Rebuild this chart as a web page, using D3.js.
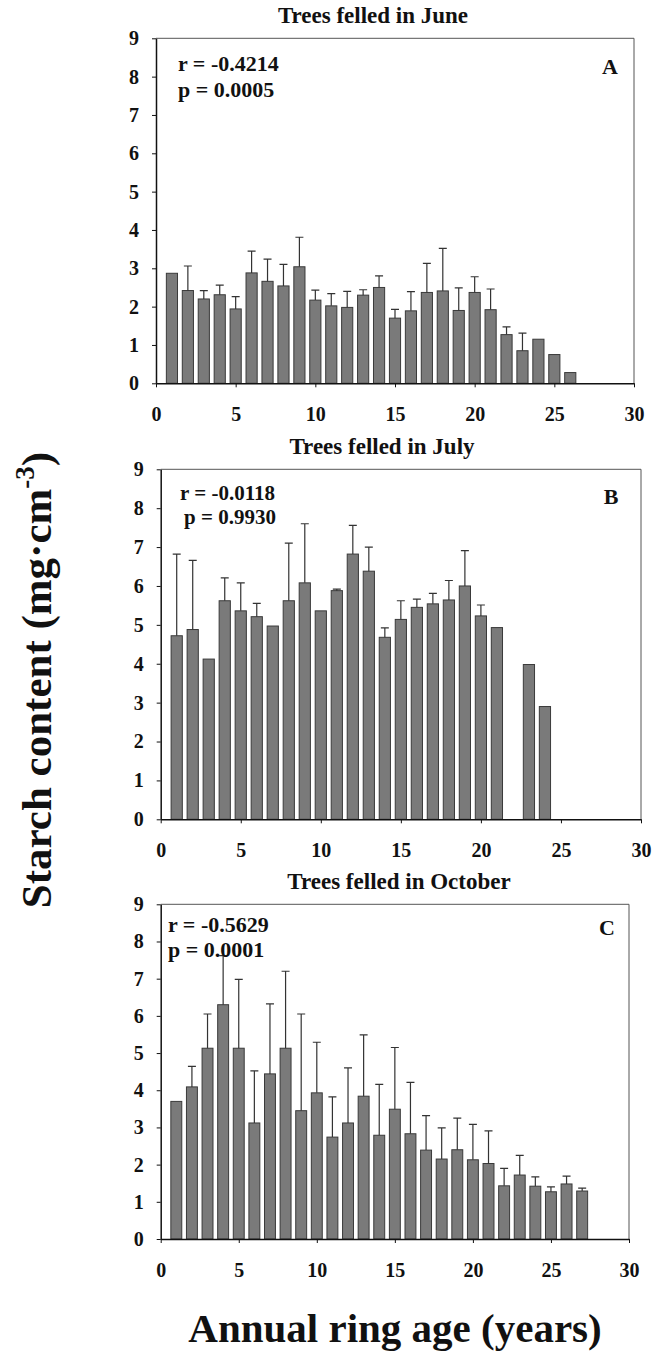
<!DOCTYPE html>
<html>
<head>
<meta charset="utf-8">
<script src="https://cdn.jsdelivr.net/npm/d3@7"></script>
<style>
  html, body { margin: 0; padding: 0; background: #fff; }
  svg { display: block; }
  text { font-family: "Liberation Serif", "Times New Roman", serif; font-weight: bold; fill: #111; }
</style>
</head>
<body>
<svg id="chart" width="669" height="1352"></svg>
<script>
// ---- data ----
const yTicks = [0, 1, 2, 3, 4, 5, 6, 7, 8, 9];
const xTicks = [0, 5, 10, 15, 20, 25, 30];

const agesA = [1,2,3,4,5,6,7,8,9,10,11,12,13,14,15,16,17,18,19,20,21,22,23,24,25,26];
const starchA = [2.87,2.42,2.20,2.31,1.94,2.88,2.66,2.54,3.04,2.17,2.02,1.98,2.30,2.50,1.70,1.89,2.37,2.41,1.90,2.37,1.92,1.27,0.85,1.15,0.75,0.28];
const sdA = [0,0.64,0.22,0.25,0.32,0.57,0.58,0.56,0.77,0.26,0.32,0.42,0.14,0.30,0.23,0.50,0.76,1.11,0.59,0.41,0.54,0.20,0.46,0,0,0];

const agesB = [1,2,3,4,5,6,7,8,9,10,11,12,13,14,15,16,17,18,19,20,21,23,24];
const starchB = [4.72,4.88,4.12,5.62,5.36,5.21,4.97,5.62,6.08,5.36,5.88,6.82,6.38,4.68,5.14,5.45,5.54,5.64,6.00,5.23,4.93,3.98,2.90];
const sdB = [2.10,1.78,0,0.59,0.72,0.34,0,1.48,1.52,0,0.04,0.74,0.62,0.24,0.48,0.21,0.27,0.50,0.91,0.28,0,0,0];

const agesC = [1,2,3,4,5,6,7,8,9,10,11,12,13,14,15,16,17,18,19,20,21,22,23,24,25,26,27];
const starchC = [3.70,4.09,5.13,6.30,5.13,3.12,4.44,5.13,3.45,3.93,2.74,3.12,3.84,2.79,3.49,2.83,2.39,2.15,2.40,2.13,2.03,1.43,1.72,1.42,1.27,1.48,1.29];
const sdC = [0,0.55,0.92,1.32,1.85,1.40,1.88,2.07,2.60,1.36,1.08,1.48,1.65,1.37,1.66,1.38,0.93,0.84,0.85,0.95,0.88,0.47,0.53,0.25,0.13,0.21,0.08];

const titles = ["Trees felled in June", "Trees felled in July", "Trees felled in October"];
const panelLetters = ["A", "B", "C"];
const rTexts = ["r = -0.4214", "r = -0.0118", "r = -0.5629"];
const pTexts = ["p = 0.0005", "p = 0.9930", "p = 0.0001"];
const yTitle = "Starch content (mg·cm";
const yTitleSup = "-3";
const xTitle = "Annual ring age (years)";

// ---- layout (pixels) ----
const layouts = [
  { left: 156, right: 634, top: 38.3, bottom: 383.3, titleX: 373, titleY: 23, rX: 178, rY: 71, pX: 178, pY: 97, letterX: 610, letterY: 74, fs: 22 },
  { left: 160.7, right: 641, top: 469.3, bottom: 819.3, titleX: 382, titleY: 454, rX: 180, rY: 500, pX: 184, pY: 524, letterX: 611, letterY: 504, fs: 21 },
  { left: 160.7, right: 629, top: 904.3, bottom: 1239, titleX: 399, titleY: 889, rX: 168, rY: 932, pX: 168, pY: 957, letterX: 607, letterY: 935, fs: 22 }
];
const seriesAges = [agesA, agesB, agesC];
const seriesVals = [starchA, starchB, starchC];
const seriesSd = [sdA, sdB, sdC];

const svg = d3.select("#chart");

layouts.forEach((L, i) => {
  const x = d3.scaleLinear().domain([0, 30]).range([L.left, L.right]);
  const y = d3.scaleLinear().domain([0, 9]).range([L.bottom, L.top]);
  const g = svg.append("g");

  // frame (top & right)
  g.append("path")
    .attr("d", `M${x(0)},${y(9)}H${x(30)}V${y(0)}`)
    .attr("fill", "none").attr("stroke", "#555").attr("stroke-width", 1);

  const data = seriesAges[i].map((a, k) => ({ age: a, v: seriesVals[i][k], sd: seriesSd[i][k] }));
  const bw = (x(1) - x(0)) * 0.7;

  // bars
  g.selectAll("rect.bar").data(data).enter().append("rect")
    .attr("class", "bar")
    .attr("x", d => x(d.age) - bw / 2)
    .attr("y", d => y(d.v))
    .attr("width", bw)
    .attr("height", d => y(0) - y(d.v))
    .attr("fill", "#7a7a7a")
    .attr("stroke", "#3a3a3a")
    .attr("stroke-width", 1);

  // error bars (upper only)
  const eb = data.filter(d => d.sd > 0);
  g.selectAll("path.err").data(eb).enter().append("path")
    .attr("class", "err")
    .attr("d", d => {
      const cx = x(d.age), y1 = y(d.v), y2 = y(d.v + d.sd);
      return `M${cx},${y1}V${y2}M${cx - 4},${y2}H${cx + 4}`;
    })
    .attr("fill", "none").attr("stroke", "#333").attr("stroke-width", 1.2);

  // axes
  const ya = g.append("g").attr("transform", `translate(${x(0)},0)`)
    .call(d3.axisLeft(y).tickValues(yTicks).tickSize(4).tickSizeOuter(0).tickPadding(13).tickFormat(d3.format("d")));
  const xa = g.append("g").attr("transform", `translate(0,${y(0)})`)
    .call(d3.axisBottom(x).tickValues(xTicks).tickSize(4).tickSizeOuter(0).tickPadding(20).tickFormat(d3.format("d")));
  [ya, xa].forEach(a => {
    a.attr("font-family", null).attr("font-size", null);
    a.select(".domain").attr("stroke", "#111").attr("stroke-width", 1.5);
    a.selectAll(".tick line").attr("stroke", "#111").attr("stroke-width", 1);
    a.selectAll(".tick text").style("font-family", '"Liberation Serif", "Times New Roman", serif')
      .style("font-weight", "bold").style("font-size", "20px").attr("fill", "#111");
  });

  // texts
  g.append("text").attr("x", L.titleX).attr("y", L.titleY).attr("text-anchor", "middle")
    .style("font-size", "23px").text(titles[i]);
  g.append("text").attr("x", L.rX).attr("y", L.rY).style("font-size", L.fs + "px").text(rTexts[i]);
  g.append("text").attr("x", L.pX).attr("y", L.pY).style("font-size", L.fs + "px").text(pTexts[i]);
  g.append("text").attr("x", L.letterX).attr("y", L.letterY).attr("text-anchor", "middle")
    .style("font-size", "22px").text(panelLetters[i]);
});

// axis titles
const yt = svg.append("text")
  .attr("transform", "translate(51,680) rotate(-90)")
  .attr("text-anchor", "middle")
  .style("font-size", "43px");
yt.append("tspan").text(yTitle);
yt.append("tspan").attr("dy", -17).style("font-size", "27px").text(yTitleSup);
yt.append("tspan").attr("dy", 17).text(")");

svg.append("text").attr("x", 395).attr("y", 1342).attr("text-anchor", "middle")
  .style("font-size", "41px").text(xTitle);
</script>
</body>
</html>
